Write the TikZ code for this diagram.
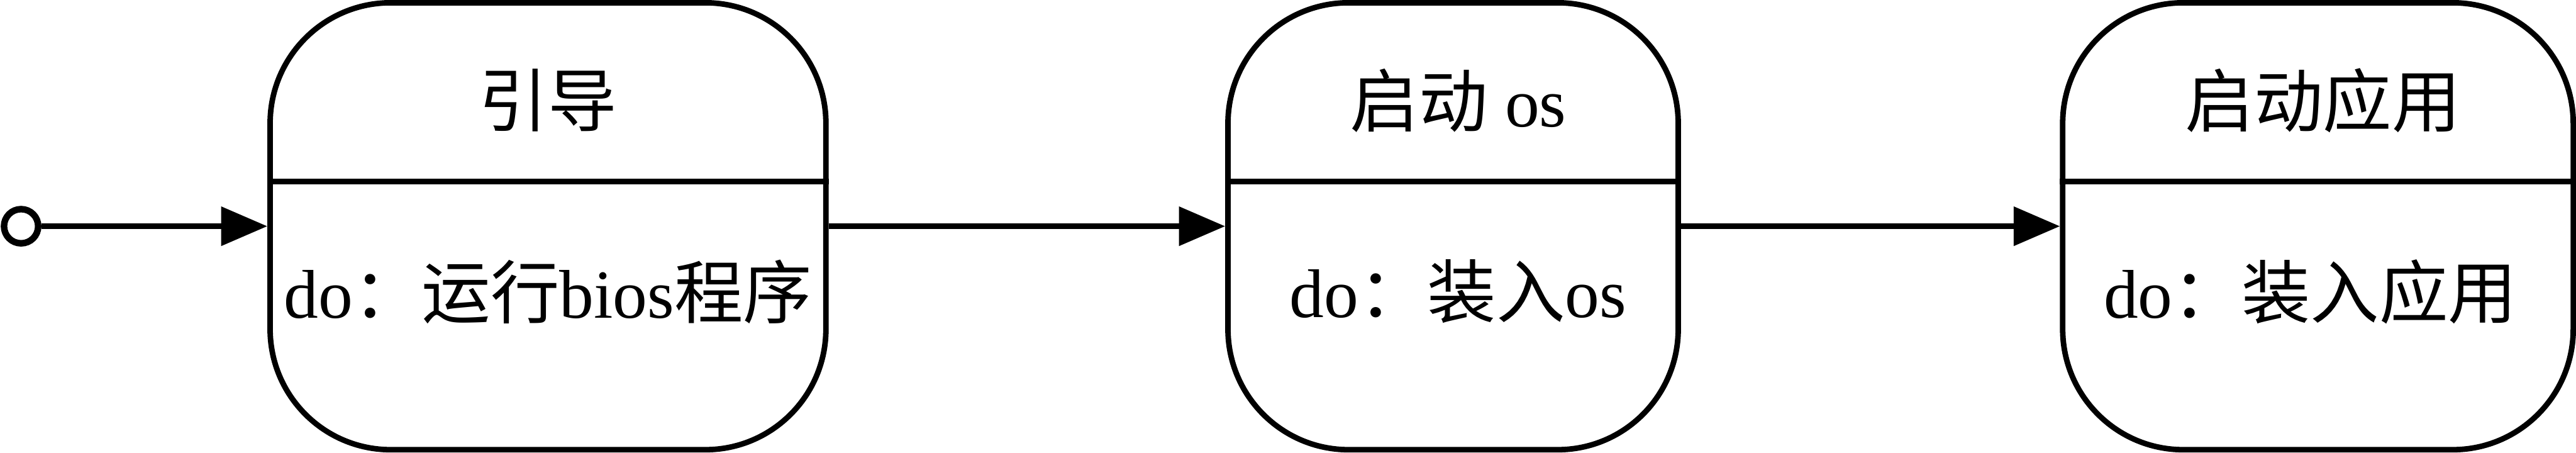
\documentclass[tikz,border=0pt]{standalone}
\usepackage{fontspec}
\setmainfont{Liberation Serif}
\newfontfamily\cjk{Noto Sans CJK SC}
\usetikzlibrary{arrows.meta, positioning, calc}

\begin{document}
\begin{tikzpicture}[
    state/.style={rectangle, draw, line width=1.1mm, rounded corners=2.4cm, minimum height=8.89cm, inner sep=0pt},
    statetext/.style={font=\fontsize{39}{46}\selectfont, inner sep=0pt},
    start/.style={circle, draw, line width=1.3mm, fill=white, minimum size=0.68cm, inner sep=0pt},
    trans/.style={-{Triangle[length=0.92cm, width=0.76cm]}, line width=1.1mm},
    sep/.style={line width=1.1mm}
]
\useasboundingbox (0,0) rectangle (51.26,9);

% initial state
\node[start] (init) at (0.42,4.5) {};

% boot state
\node[state, minimum width=11.06cm] (boot) at (10.905,4.5) {};
\node[statetext] (boot_title) at ($(boot.center)+(0,2.5)$) {{\cjk 引导}};
\coordinate (boot_sep) at ($(boot.center)+(0,0.89)$);
\draw[sep] (boot.west |- boot_sep) -- (boot.east |- boot_sep);
\node[statetext] (boot_do) at ($(boot.center)+(0,-1.3)$) {do{\cjk ：运行}bios{\cjk 程序}};

% start os state
\node[state, minimum width=8.96cm, right=7.89cm of boot] (os) {};
\node[statetext] (os_title) at ($(os.center)+(0.1,2.5)$) {{\cjk 启动} os};
\coordinate (os_sep) at ($(os.center)+(0,0.89)$);
\draw[sep] (os.west |- os_sep) -- (os.east |- os_sep);
\node[statetext] (os_do) at ($(os.center)+(0.1,-1.3)$) {do{\cjk ：装入}os};

% start app state
\node[state, minimum width=10.16cm, right=7.54cm of os] (app) {};
\node[statetext] (app_title) at ($(app.center)+(0.1,2.5)$) {{\cjk 启动应用}};
\coordinate (app_sep) at ($(app.center)+(0,0.89)$);
\draw[sep] (app.west |- app_sep) -- (app.east |- app_sep);
\node[statetext] (app_do) at ($(app.center)+(-0.15,-1.3)$) {do{\cjk ：装入应用}};

% transitions
\draw[trans] (init) -- (boot);
\draw[trans] (boot) -- (os);
\draw[trans] (os) -- (app);

\end{tikzpicture}
\end{document}
